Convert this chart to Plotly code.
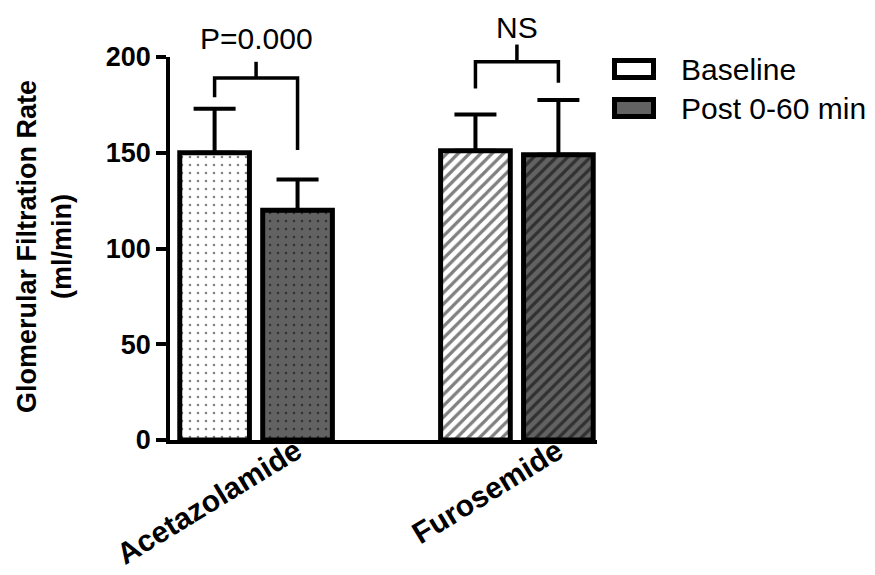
import plotly.graph_objects as go

# ---- data ----
categories = ["Acetazolamide", "Furosemide"]
baseline = [150, 151]
baseline_err = [23, 19]
post = [120, 149]
post_err = [16, 28.5]
series_names = ["Baseline", "Post 0-60 min"]
y_ticks = [0, 50, 100, 150, 200]
sig_labels = ["P=0.000", "NS"]

FONT = "Liberation Sans, Arial, sans-serif"
GRAY = "#626262"
Y_MAX = 200

# page offset of the figure (body margin)
OFF = 8
# figure size and plot area in page pixels
W, H = 875 - OFF, 575 - OFF
AX_L, AX_R, AX_T, AX_B = 170, 597, 57, 440
L, T = AX_L - OFF, AX_T - OFF
R, B = W - (AX_R - OFF), H - (AX_B - OFF)
PW, PH = AX_R - AX_L, AX_B - AX_T


def px_x(px):
    return (px - AX_L) / PW


def px_y(py):
    return (AX_B - py) / PH


fig = go.Figure()

fig.add_trace(go.Bar(
    x=categories, y=baseline, name=series_names[0],
    marker=dict(
        color="white",
        line=dict(color="black", width=5),
        pattern=dict(shape=[".", "/"], fgcolor="black", bgcolor="white",
                     size=[8, 8], solidity=[0.08, 0.4]),
    ),
    error_y=dict(type="data", array=baseline_err, arrayminus=[0, 0],
                 color="black", thickness=4, width=21),
    showlegend=False,
))
fig.add_trace(go.Bar(
    x=categories, y=post, name=series_names[1],
    marker=dict(
        color=GRAY,
        line=dict(color="black", width=5),
        pattern=dict(shape=[".", "/"], fgcolor="black", bgcolor=GRAY,
                     size=[8, 8], solidity=[0.08, 0.4]),
    ),
    error_y=dict(type="data", array=post_err, arrayminus=[0, 0],
                 color="black", thickness=4, width=21),
    showlegend=False,
))

bargap = 0.364
bargroupgap = 0.16
slot = (1 - bargap) / 2
offs = [-slot / 2, slot / 2]

shapes = []
annotations = []

# significance brackets (values in data units)
brackets = [
    # (cat index, top, left leg bottom, right leg bottom, center tick top)
    (0, 189, 179, 151.5, 197.5),
    (1, 197.5, 183.5, 186.5, 206.5),
]
label_py = [38, 27]
for k, (ci, top, lb, rb, ct) in enumerate(brackets):
    xl, xr = ci + offs[0], ci + offs[1]
    pts = [(xl, lb), (xl, top), (xr, top), (xr, rb)]
    path = "M " + " L ".join(f"{x},{y / Y_MAX}" for x, y in pts)
    shapes.append(dict(type="path", path=path, xref="x", yref="paper",
                       line=dict(color="black", width=3.5)))
    shapes.append(dict(type="line", xref="x", yref="paper",
                       x0=ci, x1=ci, y0=top / Y_MAX, y1=ct / Y_MAX,
                       line=dict(color="black", width=3.5)))
    annotations.append(dict(text=sig_labels[k], xref="x", yref="paper",
                            x=ci, y=px_y(label_py[k]), showarrow=False,
                            xanchor="center", yanchor="middle",
                            font=dict(family=FONT, size=30, color="black")))

# custom legend
leg_rows = [(69, "white"), (108, GRAY)]
for (cy, col), name in zip(leg_rows, series_names):
    shapes.append(dict(type="rect", xref="paper", yref="paper",
                       x0=px_x(614.5), x1=px_x(653.5), y0=px_y(cy - 8.5), y1=px_y(cy + 8.5),
                       line=dict(color="black", width=5), fillcolor=col))
    annotations.append(dict(text=name, xref="paper", yref="paper",
                            x=px_x(679), y=px_y(cy), showarrow=False,
                            xanchor="left", yanchor="middle",
                            font=dict(family=FONT, size=30, color="black")))

# category labels (rotated)
for i, c in enumerate(categories):
    annotations.append(dict(text=f"<b>{c}</b>", xref="x", yref="paper",
                            x=i, y=0, xshift=54, yshift=10, showarrow=False,
                            xanchor="right", yanchor="top", textangle=-31.5,
                            font=dict(family=FONT, size=30, color="black")))

# y axis title
annotations.append(dict(text="<b>Glomerular Filtration Rate<br>(ml/min)</b>",
                        xref="paper", yref="paper", x=px_x(44), y=px_y(247),
                        showarrow=False, textangle=-90,
                        xanchor="center", yanchor="middle",
                        font=dict(family=FONT, size=27, color="black")))

fig.update_layout(
    width=W, height=H,
    margin=dict(l=L, r=R, t=T, b=B, pad=0),
    paper_bgcolor="white", plot_bgcolor="white",
    barmode="group", bargap=bargap, bargroupgap=bargroupgap,
    shapes=shapes, annotations=annotations,
    showlegend=False,
    xaxis=dict(range=[-0.33, 1.307], showticklabels=False, ticks="",
               showline=True, linecolor="black", linewidth=3.5,
               showgrid=False, zeroline=False, fixedrange=True),
    yaxis=dict(range=[0, Y_MAX], tickvals=y_ticks, ticks="outside",
               ticklen=10, tickwidth=3.5, tickcolor="black",
               showline=True, linecolor="black", linewidth=3.5,
               showgrid=False, zeroline=False,
               tickfont=dict(family=FONT, size=27, color="black", weight="bold")),
)

fig.write_html("out.html")
